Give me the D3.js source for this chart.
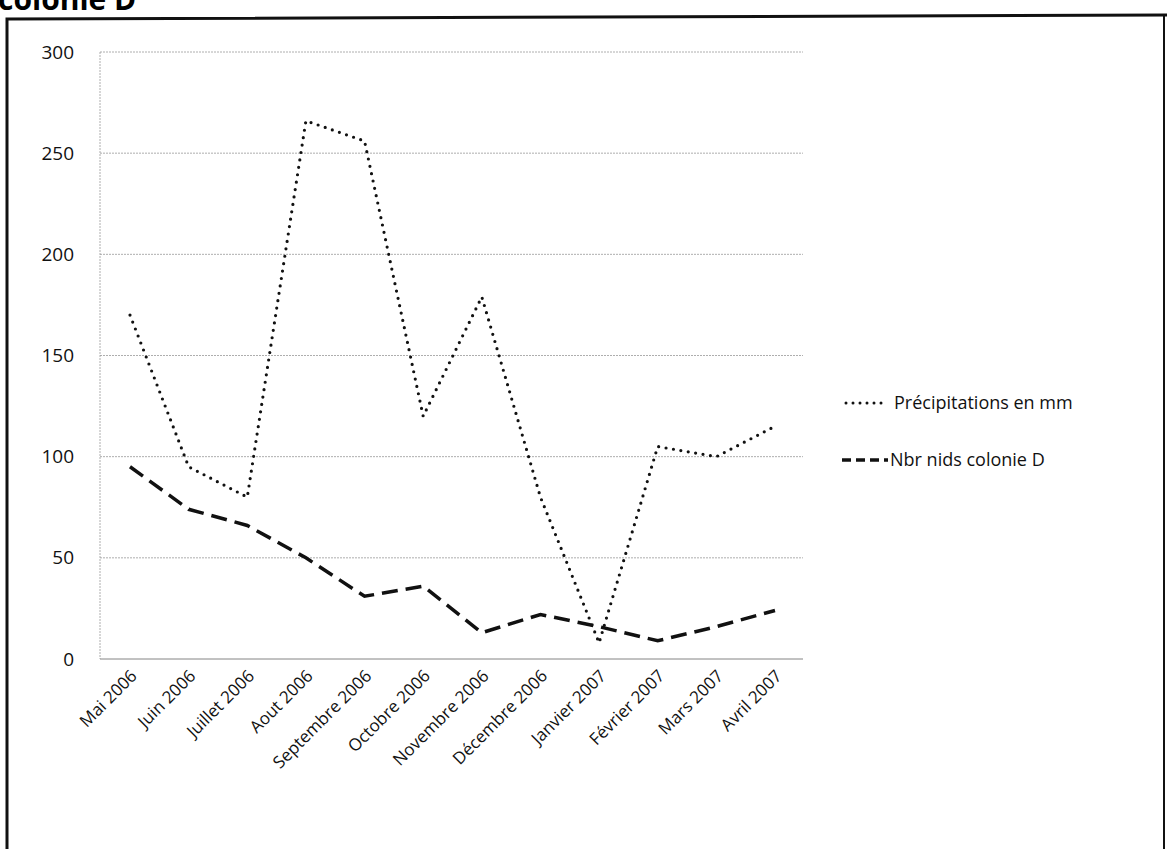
<!DOCTYPE html>
<html>
<head>
<meta charset="UTF-8">
<script src="https://cdn.jsdelivr.net/npm/d3@7"></script>
<style>
  body { margin: 0; background: #fff; }
  text { font-family: "Open Sans", Lato, sans-serif; }
</style>
</head>
<body>
<svg id="chart" width="1167" height="849"></svg>
<script>
const months = ["Mai 2006", "Juin 2006", "Juillet 2006", "Aout 2006", "Septembre 2006", "Octobre 2006",
  "Novembre 2006", "Décembre 2006", "Janvier 2007", "Février 2007", "Mars 2007", "Avril 2007"];
const precip = [170, 95, 80, 266, 256, 120, 179, 80, 8, 105, 100, 115];
const nids = [95, 74, 66, 50, 31, 36, 13, 22, 16, 9, 16, 24];
const yTicks = [0, 50, 100, 150, 200, 250, 300];

const svg = d3.select("#chart");

// title, cut off at the top edge as in the scan
svg.append("text").attr("x", -2).attr("y", 10)
  .attr("font-size", 30).attr("font-weight", "bold")
  .attr("font-family", "Arial, Liberation Sans, sans-serif")
  .text("colonie D");

// frame
svg.append("path").attr("d", "M7,849 L7,19 L1167,15")
  .attr("fill", "none").attr("stroke", "#111").attr("stroke-width", 3);
svg.append("line").attr("x1", 1164).attr("x2", 1164).attr("y1", 15).attr("y2", 849)
  .attr("stroke", "#111").attr("stroke-width", 2);

const mLeft = 100, mRight = 803, mTop = 52, mBottom = 659;
const x = d3.scalePoint().domain(months).range([130, 775]);
const y = d3.scaleLinear().domain([0, 300]).range([mBottom, mTop]);

// gridlines
svg.append("g").selectAll("line").data(yTicks).join("line")
  .attr("x1", mLeft).attr("x2", mRight)
  .attr("y1", d => y(d)).attr("y2", d => y(d))
  .attr("stroke", d => d === 0 ? "#666" : "#999")
  .attr("stroke-width", 0.8)
  .attr("stroke-dasharray", d => d === 0 ? null : "2,1");
svg.append("line").attr("x1", mLeft).attr("x2", mLeft).attr("y1", mTop).attr("y2", mBottom)
  .attr("stroke", "#999").attr("stroke-width", 0.8).attr("stroke-dasharray", "2,1");

// y labels
svg.append("g").selectAll("text").data(yTicks).join("text")
  .attr("x", 74).attr("y", d => y(d)).attr("dy", "0.35em")
  .attr("text-anchor", "end").attr("font-size", 19).attr("fill", "#111")
  .text(d => d);

// x labels
svg.append("g").selectAll("text").data(months).join("text")
  .attr("transform", d => `translate(${x(d) + 8},${mBottom + 18}) rotate(-45)`)
  .attr("text-anchor", "end").attr("font-size", 17).attr("fill", "#111")
  .text(d => d);

const line = d3.line().x((d, i) => x(months[i])).y(d => y(d));

svg.append("path").datum(precip).attr("d", line)
  .attr("fill", "none").attr("stroke", "#111").attr("stroke-width", 3.2)
  .attr("stroke-linecap", "round").attr("stroke-dasharray", "0,7.5");
svg.append("path").datum(nids).attr("d", line)
  .attr("fill", "none").attr("stroke", "#111").attr("stroke-width", 3.5)
  .attr("stroke-dasharray", "16,8");

// legend
const lg = svg.append("g");
lg.append("line").attr("x1", 846).attr("x2", 886).attr("y1", 403).attr("y2", 403)
  .attr("stroke", "#111").attr("stroke-width", 3).attr("stroke-linecap", "round")
  .attr("stroke-dasharray", "0,7");
lg.append("text").attr("x", 894).attr("y", 403).attr("dy", "0.35em")
  .attr("font-size", 18).attr("fill", "#111").text("Précipitations en mm");
lg.append("line").attr("x1", 842).attr("x2", 888).attr("y1", 460).attr("y2", 460)
  .attr("stroke", "#111").attr("stroke-width", 3.5).attr("stroke-dasharray", "9,5");
lg.append("text").attr("x", 890).attr("y", 460).attr("dy", "0.35em")
  .attr("font-size", 18).attr("fill", "#111").text("Nbr nids colonie D");
</script>
</body>
</html>
